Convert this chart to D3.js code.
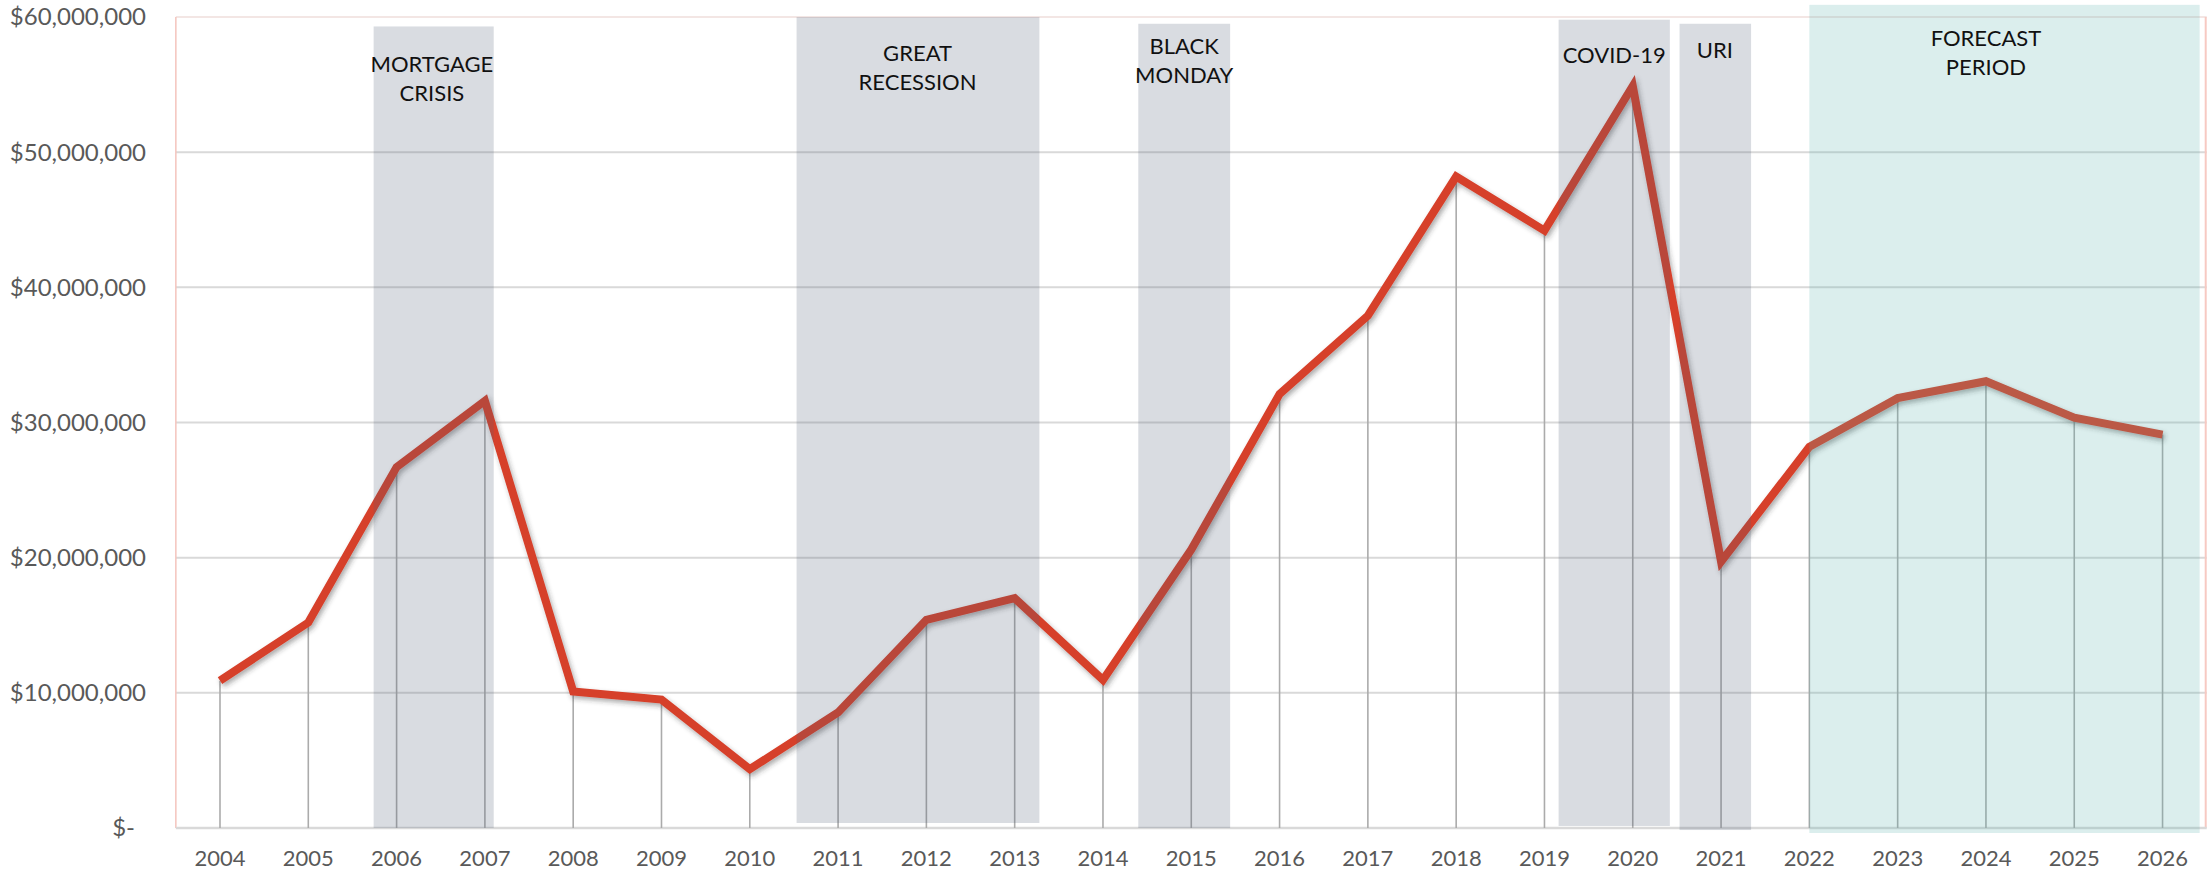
<!DOCTYPE html>
<html>
<head>
<meta charset="utf-8">
<script src="https://cdn.jsdelivr.net/npm/d3@7"></script>
<style>
  html, body { margin: 0; padding: 0; background: #fff; }
  svg { display: block; }
  .tick-y { font-family: Lato, 'Open Sans', sans-serif; font-size: 24px; fill: #595959; }
  .tick-x { font-family: Lato, 'Open Sans', sans-serif; font-size: 22px; fill: #595959; }
  .region-label { font-family: Lato, 'Open Sans', sans-serif; font-size: 22px; fill: #111; }
</style>
</head>
<body>
<svg id="chart"></svg>
<script>
// data
const years = d3.range(2004, 2027);
const values = [
  10.9, 15.2, 26.7, 31.6, 10.1, 9.5, 4.35, 8.55, 15.4, 17.0, 10.95, 20.6,
  32.1, 37.9, 48.2, 44.2, 54.9, 19.7, 28.2, 31.8, 33.05, 30.35, 29.1
].map(v => v * 1e6);
const yTicks = [0, 10e6, 20e6, 30e6, 40e6, 50e6, 60e6];

// shaded periods: start/end in years, top/bottom in dollars
const regionNames  = ['MORTGAGE|CRISIS', 'GREAT|RECESSION', 'BLACK|MONDAY', 'COVID-19', 'URI', 'FORECAST|PERIOD'];
const regionStart  = [2005.74, 2010.53, 2014.40, 2019.16, 2020.53, 2022.0];
const regionEnd    = [2007.10, 2013.28, 2015.44, 2020.42, 2021.34, 2026.42];
const regionTop    = [59.3e6, 60.0e6, 59.5e6, 59.8e6, 59.5e6, 60.9e6];
const regionBottom = [0, 0.37e6, 0, 0.15e6, -0.15e6, -0.37e6];
const regionLabelX = [2006.4, 2011.9, 2014.92, 2019.79, 2020.93, 2024.0];
const regionLabelY = [56.5e6, 57.3e6, 57.8e6, 57.2e6, 57.5e6, 58.4e6];
const regionKind   = ['event', 'event', 'event', 'event', 'event', 'forecast'];

const width = 2211, height = 873;
const svg = d3.select('#chart').attr('width', width).attr('height', height);

const x = d3.scaleBand().domain(years).range([175.85, 2206.7]).padding(0);
const bw = x.bandwidth();
const xc = d => x(d) + bw / 2;
const xYear = d3.scaleLinear().domain([2004, 2026]).range([xc(2004), xc(2026)]);
const y = d3.scaleLinear().domain([0, 60e6]).range([828, 17]);

const defs = svg.append('defs');
const shadow = defs.append('filter').attr('id', 'shadow')
  .attr('x', '-5%').attr('y', '-5%').attr('width', '110%').attr('height', '115%');
shadow.append('feDropShadow')
  .attr('dx', 2).attr('dy', 3).attr('stdDeviation', 2.5)
  .attr('flood-color', '#333').attr('flood-opacity', 0.4);

// horizontal gridlines
svg.append('g')
  .selectAll('line')
  .data(yTicks.filter(d => d > 0 && d < 60e6))
  .enter()
  .append('line')
  .attr('x1', x.range()[0]).attr('x2', x.range()[1])
  .attr('y1', d => y(d)).attr('y2', d => y(d))
  .attr('stroke', '#d9d9d9').attr('stroke-width', 2);

// plot frame
svg.append('line')
  .attr('x1', x.range()[0]).attr('x2', x.range()[1])
  .attr('y1', y(60e6)).attr('y2', y(60e6))
  .attr('stroke', '#f3e6e4').attr('stroke-width', 2);
svg.append('line')
  .attr('x1', x.range()[0]).attr('x2', x.range()[0])
  .attr('y1', y(60e6)).attr('y2', y(0))
  .attr('stroke', '#f4c4bd').attr('stroke-width', 1.5);
svg.append('line')
  .attr('x1', x.range()[1] - 1).attr('x2', x.range()[1] - 1)
  .attr('y1', y(60e6)).attr('y2', y(0))
  .attr('stroke', '#f7c9c2').attr('stroke-width', 2);
svg.append('line')
  .attr('x1', x.range()[0]).attr('x2', x.range()[1])
  .attr('y1', y(0)).attr('y2', y(0))
  .attr('stroke', '#d9d9d9').attr('stroke-width', 2.5);

// drop lines from each point to the axis
svg.append('g')
  .selectAll('line')
  .data(years)
  .enter()
  .append('line')
  .attr('x1', d => xc(d)).attr('x2', d => xc(d))
  .attr('y1', (d, i) => y(values[i])).attr('y2', y(0))
  .attr('stroke', '#ababab').attr('stroke-width', 1.6);

// main line
const line = d3.line().x(d => xc(d.year)).y(d => y(d.value));
svg.append('path')
  .datum(years.map((yr, i) => ({ year: yr, value: values[i] })))
  .attr('d', line)
  .attr('fill', 'none')
  .attr('stroke', '#d63f29')
  .attr('stroke-width', 8)
  .attr('stroke-linejoin', 'miter')
  .attr('filter', 'url(#shadow)');

// shaded periods drawn over everything (semi transparent, darker tint)
const regions = regionNames.map((name, i) => ({
  name, start: regionStart[i], end: regionEnd[i], top: regionTop[i], bottom: regionBottom[i],
  lx: regionLabelX[i], ly: regionLabelY[i], kind: regionKind[i]
}));

svg.append('g')
  .selectAll('rect')
  .data(regions)
  .enter()
  .append('rect')
  .attr('x', d => xYear(d.start))
  .attr('width', d => xYear(d.end) - xYear(d.start))
  .attr('y', d => y(d.top))
  .attr('height', d => y(d.bottom) - y(d.top))
  .attr('fill', d => d.kind === 'forecast' ? '#5bb2ad' : '#526077')
  .attr('fill-opacity', 0.22);

const labels = svg.append('g')
  .selectAll('text')
  .data(regions)
  .enter()
  .append('text')
  .attr('class', 'region-label')
  .attr('text-anchor', 'middle')
  .attr('fill', d => d.kind === 'forecast' ? '#263232' : '#111');
labels.each(function (d) {
  const parts = d.name.split('|');
  const t = d3.select(this);
  parts.forEach((p, k) => {
    t.append('tspan')
      .attr('x', xYear(d.lx))
      .attr('y', y(d.ly) + k * 29)
      .attr('dy', '0.35em')
      .text(p);
  });
});

// y axis labels
svg.append('g')
  .selectAll('text')
  .data(yTicks)
  .enter()
  .append('text')
  .attr('class', 'tick-y')
  .attr('text-anchor', 'end')
  .attr('x', d => d === 0 ? 135 : 146)
  .attr('y', d => y(d))
  .attr('dy', '0.35em')
  .text(d => d === 0 ? '$-' : d3.format('$,')(d));

// x axis labels
svg.append('g')
  .selectAll('text')
  .data(years)
  .enter()
  .append('text')
  .attr('class', 'tick-x')
  .attr('text-anchor', 'middle')
  .attr('x', d => xc(d))
  .attr('y', 858)
  .attr('dy', '0.35em')
  .text(d => d);
</script>
</body>
</html>
